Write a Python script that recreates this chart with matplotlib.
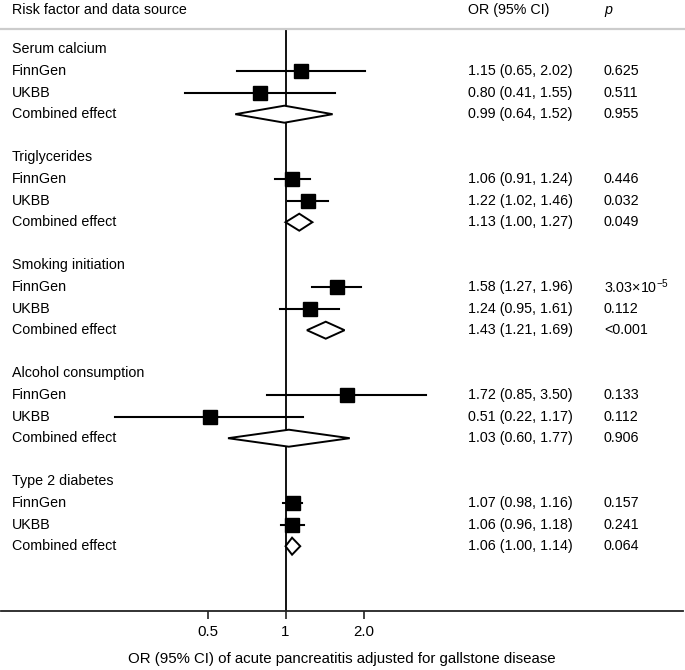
import matplotlib
matplotlib.use("Agg")
import matplotlib.pyplot as plt
from matplotlib.patches import Polygon
import numpy as np

plt.rcParams['font.family'] = ['Liberation Sans', 'DejaVu Sans']
plt.rcParams['mathtext.fontset'] = 'custom'
plt.rcParams['mathtext.rm'] = 'Liberation Sans'
plt.rcParams['mathtext.it'] = 'Liberation Sans:italic'

# data
groups = ["Serum calcium", "Triglycerides", "Smoking initiation",
          "Alcohol consumption", "Type 2 diabetes"]
sources = ["FinnGen", "UKBB", "Combined effect"]
or_est = [[1.15, 0.80, 0.99], [1.06, 1.22, 1.13], [1.58, 1.24, 1.43],
          [1.72, 0.51, 1.03], [1.07, 1.06, 1.06]]
ci_low = [[0.65, 0.41, 0.64], [0.91, 1.02, 1.00], [1.27, 0.95, 1.21],
          [0.85, 0.22, 0.60], [0.98, 0.96, 1.00]]
ci_high = [[2.02, 1.55, 1.52], [1.24, 1.46, 1.27], [1.96, 1.61, 1.69],
           [3.50, 1.17, 1.77], [1.16, 1.18, 1.14]]
p_vals = [["0.625", "0.511", "0.955"], ["0.446", "0.032", "0.049"],
          [r"3.03×10$^{\mathrm{-5}}$", "0.112", "<0.001"], ["0.133", "0.112", "0.906"],
          ["0.157", "0.241", "0.064"]]
tick_vals = [0.5, 1, 2]
tick_labels = ["0.5", "1", "2.0"]

W, H = 685, 670
fig = plt.figure(figsize=(W / 100, H / 100), dpi=100)

# pixel layout
x_one, px_per_dbl = 285.5, 78.0
ax_left, ax_right = 1, 683
ax_top, ax_bottom = 29, 610.5
row0, row_h = 49.4, 21.6

ax = fig.add_axes([ax_left / W, 1 - ax_bottom / H, (ax_right - ax_left) / W,
                   (ax_bottom - ax_top) / H])
ax.set_xscale('log', base=2)
ax.set_xlim(2 ** ((ax_left - x_one) / px_per_dbl), 2 ** ((ax_right - x_one) / px_per_dbl))
ax.set_ylim((ax_bottom - row0) / row_h, (ax_top - row0) / row_h)

for s in ['top', 'right', 'left']:
    ax.spines[s].set_visible(False)
ax.spines['bottom'].set_linewidth(1.3)
ax.spines['bottom'].set_color('#222222')
ax.set_yticks([])
ax.set_xticks(tick_vals)
ax.set_xticklabels(tick_labels)
ax.minorticks_off()
ax.tick_params(axis='x', length=6, width=1.2, labelsize=10.8, pad=4.5, color='#222222')
ax.set_xlabel("OR (95% CI) of acute pancreatitis adjusted for gallstone disease",
              fontsize=10.8, labelpad=9)

ax.axvline(1, color='black', lw=1.3, zorder=1)

fs = 10.3
text_x, or_x, p_x = 12 / W, 468 / W, 604 / W
half_h = 8.5 / row_h

for g, name in enumerate(groups):
    base = g * 5
    fig.text(text_x, 1 - (row0 + base * row_h) / H, name, fontsize=fs, va='center')
    for k, src in enumerate(sources):
        y = base + 1 + k
        yf = 1 - (row0 + y * row_h) / H
        fig.text(text_x, yf, src, fontsize=fs, va='center')
        est, lo, hi = or_est[g][k], ci_low[g][k], ci_high[g][k]
        fig.text(or_x, yf, f"{est:.2f} ({lo:.2f}, {hi:.2f})", fontsize=fs, va='center')
        fig.text(p_x, yf, p_vals[g][k], fontsize=fs, va='center')
        if k < 2:
            ax.plot([lo, hi], [y, y], color='black', lw=1.5, zorder=2)
            ax.plot(est, y, marker='s', color='black', markersize=9.8, zorder=3)
        else:
            dia = Polygon([(lo, y), (est, y - half_h), (hi, y), (est, y + half_h)],
                          closed=True, facecolor='white', edgecolor='black',
                          lw=1.4, zorder=3)
            ax.add_patch(dia)

# header
fig.text(text_x, 1 - 10 / H, "Risk factor and data source", fontsize=fs, va='center')
fig.text(or_x, 1 - 10 / H, "OR (95% CI)", fontsize=fs, va='center')
fig.text(p_x, 1 - 10 / H, "p", fontsize=fs, va='center', style='italic')
fig.add_artist(plt.Line2D([0, 1], [1 - ax_top / H, 1 - ax_top / H],
                          transform=fig.transFigure, color='#cccccc', lw=1.6))

fig.savefig('out.png', dpi=100)
